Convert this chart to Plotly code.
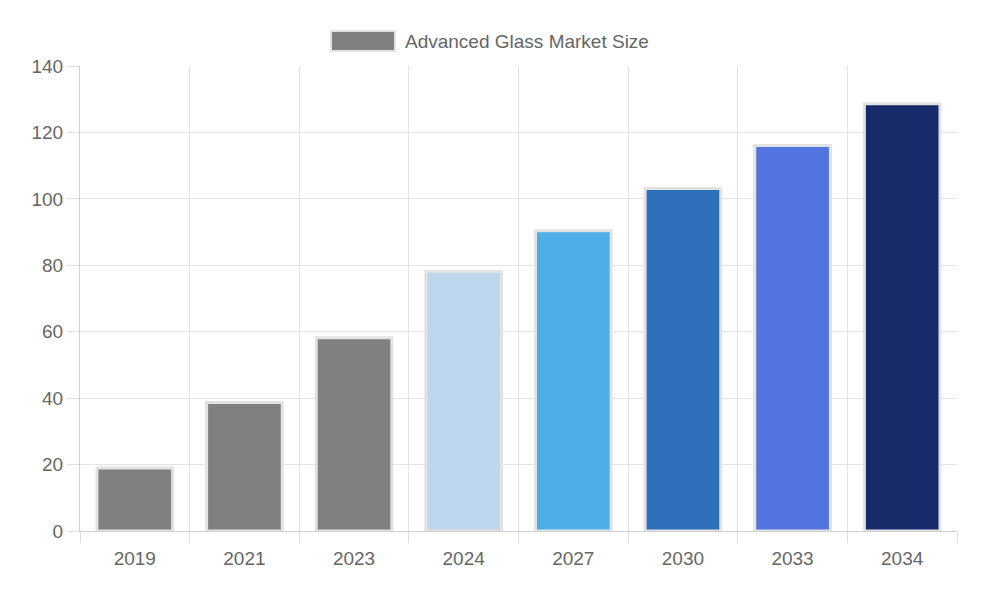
import plotly.graph_objects as go

years = ["2019", "2021", "2023", "2024", "2027", "2030", "2033", "2034"]
market_size = [19.0, 38.7, 58.2, 78.1, 90.4, 103.1, 116.1, 128.6]
bar_colors = ["#808080", "#808080", "#808080", "#bdd7ee", "#4daee8", "#2e6fba", "#5274de", "#172b6b"]
series_name = "Advanced Glass Market Size"
y_ticks = [0, 20, 40, 60, 80, 100, 120, 140]

# page body has an 8px margin; figure coords = screen coords - 8
OFF = 8
W, H = 1000, 600
L, R, T, B = 80 - OFF, 43 + OFF, 66 - OFF, 69 + OFF
pw, ph = W - L - R, H - T - B

def px(x):
    return (x - OFF - L) / pw

def py(y):
    return (H - B - (y - OFF)) / ph

fig = go.Figure()
fig.add_trace(go.Bar(
    x=years, y=market_size, name=series_name,
    marker=dict(color=bar_colors, line=dict(color="#e2e2e2", width=3)),
    width=0.69, showlegend=False,
))

font = "Liberation Sans, Arial, Helvetica, sans-serif"
fig.update_layout(
    width=W, height=H,
    margin=dict(l=L, r=R, t=T, b=B),
    paper_bgcolor="white", plot_bgcolor="white",
    font=dict(family=font, size=19, color="#666666"),
    xaxis=dict(
        type="category", tickson="boundaries", showgrid=True, gridcolor="#e3e3e3", gridwidth=1,
        ticks="outside", ticklen=11, tickcolor="#dddddd",
        showline=True, linecolor="#d0d0d0", mirror=False,
        tickfont=dict(size=19, color="#666666"), ticklabelstandoff=10,
    ),
    yaxis=dict(
        range=[0, 140], tickvals=y_ticks, showgrid=True, gridcolor="#e3e3e3", gridwidth=1,
        ticks="outside", ticklen=12, tickcolor="#dddddd",
        showline=True, linecolor="#d0d0d0", zeroline=False,
        tickfont=dict(size=19, color="#666666"),
    ),
    shapes=[dict(
        type="rect", xref="paper", yref="paper",
        x0=px(331), x1=px(395), y0=py(51), y1=py(31),
        fillcolor="#808080", line=dict(color="#e2e2e2", width=2),
    )],
    annotations=[dict(
        text=series_name, xref="paper", yref="paper",
        x=px(403), y=py(41), xanchor="left", yanchor="middle",
        showarrow=False, font=dict(size=19, color="#666666", family=font),
    )],
)

fig.write_html("out.html")
